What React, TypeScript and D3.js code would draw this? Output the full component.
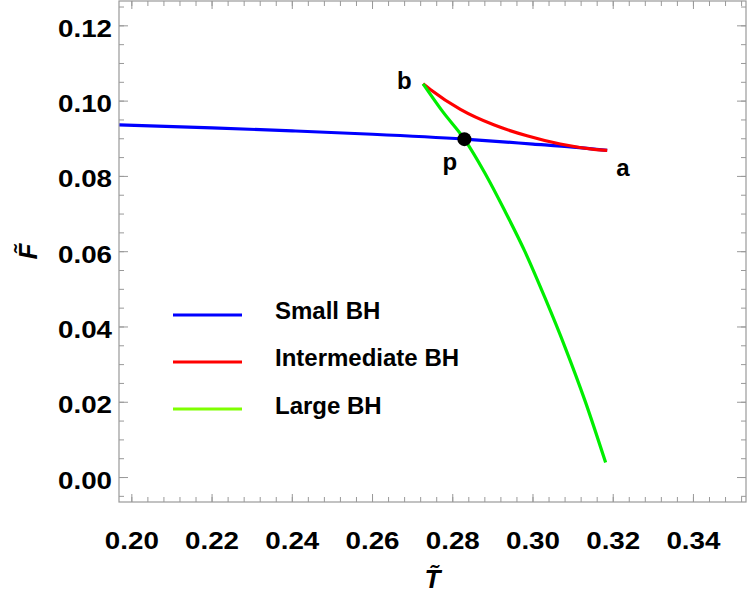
import * as d3 from "d3";

const W = 747;
const H = 598;
const FRAME = { left: 119, right: 746, top: 1, bottom: 502 };
const FONT = "'Liberation Sans', Arial, sans-serif";

// curves: [T, F]
const smallBH: [number, number][] = [
  [0.1968, 0.0937],
  [0.22, 0.0929],
  [0.24, 0.0921],
  [0.26, 0.0912],
  [0.2829, 0.0899],
  [0.30, 0.0886],
  [0.31, 0.0878],
  [0.3185, 0.0869],
];
const intermediateBH: [number, number][] = [
  [0.2726, 0.1046],
  [0.2744, 0.1031],
  [0.2819, 0.0978],
  [0.2902, 0.0937],
  [0.2985, 0.0908],
  [0.3068, 0.0886],
  [0.3152, 0.0872],
  [0.3185, 0.0869],
];
const largeBH: [number, number][] = [
  [0.2726, 0.1046],
  [0.2775, 0.0972],
  [0.2829, 0.0899],
  [0.288, 0.0809],
  [0.293, 0.0708],
  [0.298, 0.06],
  [0.303, 0.0477],
  [0.308, 0.0346],
  [0.313, 0.0203],
  [0.3181, 0.004],
];
const seriesNames = ["Small BH", "Intermediate BH", "Large BH"];
const seriesColors = ["#0000ff", "#ff0000", "#00ee00"];
const legendColors = ["#0000ff", "#ff0000", "#7fff00"];
const pointP: [number, number] = [0.2829, 0.0899];
const markers = [
  { name: "b", t: 0.2726, f: 0.1046, dx: -26, dy: 5 },
  { name: "p", t: 0.2829, f: 0.0899, dx: -22, dy: 31 },
  { name: "a", t: 0.3185, f: 0.0869, dx: 9, dy: 26 },
];
const xTicks = [0.2, 0.22, 0.24, 0.26, 0.28, 0.3, 0.32, 0.34];
const yTicks = [0, 0.02, 0.04, 0.06, 0.08, 0.1, 0.12];

export default function App() {
  const x = d3.scaleLinear().domain([0.1968, 0.3531]).range([FRAME.left, FRAME.right]);
  const y = d3.scaleLinear().domain([-0.0065, 0.1266]).range([FRAME.bottom, FRAME.top]);

  const line = d3
    .line<[number, number]>()
    .x((d) => x(d[0]))
    .y((d) => y(d[1]))
    .curve(d3.curveMonotoneX);

  const series = [smallBH, intermediateBH, largeBH];

  // minor ticks: 0.004 on T, 0.005 on F
  const xMinor = d3.range(0.196, 0.354, 0.004).filter((v) => v >= 0.1968 && v <= 0.3531);
  const yMinor = d3.range(-0.005, 0.1266, 0.005);

  const tickColor = "#999999";

  return (
    <svg width={W} height={H} style={{ position: "absolute", left: 0, top: 0 }}>
      <rect width={W} height={H} fill="white" />

      {/* curves */}
      {series.map((s, i) => (
        <path key={i} d={line(s) ?? ""} fill="none" stroke={seriesColors[i]} strokeWidth={3.2} />
      ))}
      <circle cx={x(pointP[0])} cy={y(pointP[1])} r={7} fill="#000" />

      {markers.map((m) => (
        <text
          key={m.name}
          x={x(m.t) + m.dx}
          y={y(m.f) + m.dy}
          fontFamily={FONT}
          fontWeight="bold"
          fontSize={24}
        >
          {m.name}
        </text>
      ))}

      {/* legend */}
      {seriesNames.map((name, i) => (
        <g key={name}>
          <line x1={173} x2={242} y1={315 + i * 47} y2={315 + i * 47} stroke={legendColors[i]} strokeWidth={3.2} />
          <text x={275} y={318.5 + i * 47.5} fontFamily={FONT} fontWeight="bold" fontSize={24}>
            {name}
          </text>
        </g>
      ))}

      {/* frame */}
      <rect
        x={FRAME.left}
        y={FRAME.top}
        width={FRAME.right - FRAME.left}
        height={FRAME.bottom - FRAME.top}
        fill="none"
        stroke={tickColor}
        strokeWidth={1.2}
      />

      {/* x ticks, bottom and top */}
      {xMinor.map((v, i) => (
        <g key={"xm" + i}>
          <line x1={x(v)} x2={x(v)} y1={FRAME.bottom} y2={FRAME.bottom - 5} stroke={tickColor} />
          <line x1={x(v)} x2={x(v)} y1={FRAME.top} y2={FRAME.top + 5} stroke={tickColor} />
        </g>
      ))}
      {xTicks.map((v) => (
        <g key={"x" + v}>
          <line x1={x(v)} x2={x(v)} y1={FRAME.bottom} y2={FRAME.bottom - 8} stroke={tickColor} />
          <line x1={x(v)} x2={x(v)} y1={FRAME.top} y2={FRAME.top + 8} stroke={tickColor} />
          <text
            x={x(v)}
            y={549}
            textAnchor="middle"
            fontFamily={FONT}
            fontWeight="bold"
            fontSize={24}
            textLength={54}
            lengthAdjust="spacingAndGlyphs"
          >
            {v.toFixed(2)}
          </text>
        </g>
      ))}

      {/* y ticks, left and right */}
      {yMinor.map((v, i) => (
        <g key={"ym" + i}>
          <line x1={FRAME.left} x2={FRAME.left + 5} y1={y(v)} y2={y(v)} stroke={tickColor} />
          <line x1={FRAME.right} x2={FRAME.right - 5} y1={y(v)} y2={y(v)} stroke={tickColor} />
        </g>
      ))}
      {yTicks.map((v) => (
        <g key={"y" + v}>
          <line x1={FRAME.left} x2={FRAME.left + 9} y1={y(v)} y2={y(v)} stroke={tickColor} />
          <line x1={FRAME.right} x2={FRAME.right - 9} y1={y(v)} y2={y(v)} stroke={tickColor} />
          <text
            x={112}
            y={y(v) + 11}
            textAnchor="end"
            fontFamily={FONT}
            fontWeight="bold"
            fontSize={24}
            textLength={54}
            lengthAdjust="spacingAndGlyphs"
          >
            {v.toFixed(2)}
          </text>
        </g>
      ))}

      {/* axis titles */}
      <text
        x={(FRAME.left + FRAME.right) / 2}
        y={588}
        textAnchor="middle"
        fontFamily={FONT}
        fontWeight="bold"
        fontStyle="italic"
        fontSize={26}
      >
        {"T\u0303"}
      </text>
      <text
        transform={`translate(37, ${(FRAME.top + FRAME.bottom) / 2}) rotate(-90)`}
        textAnchor="middle"
        fontFamily={FONT}
        fontWeight="bold"
        fontStyle="italic"
        fontSize={26}
      >
        {"F\u0303"}
      </text>
    </svg>
  );
}
